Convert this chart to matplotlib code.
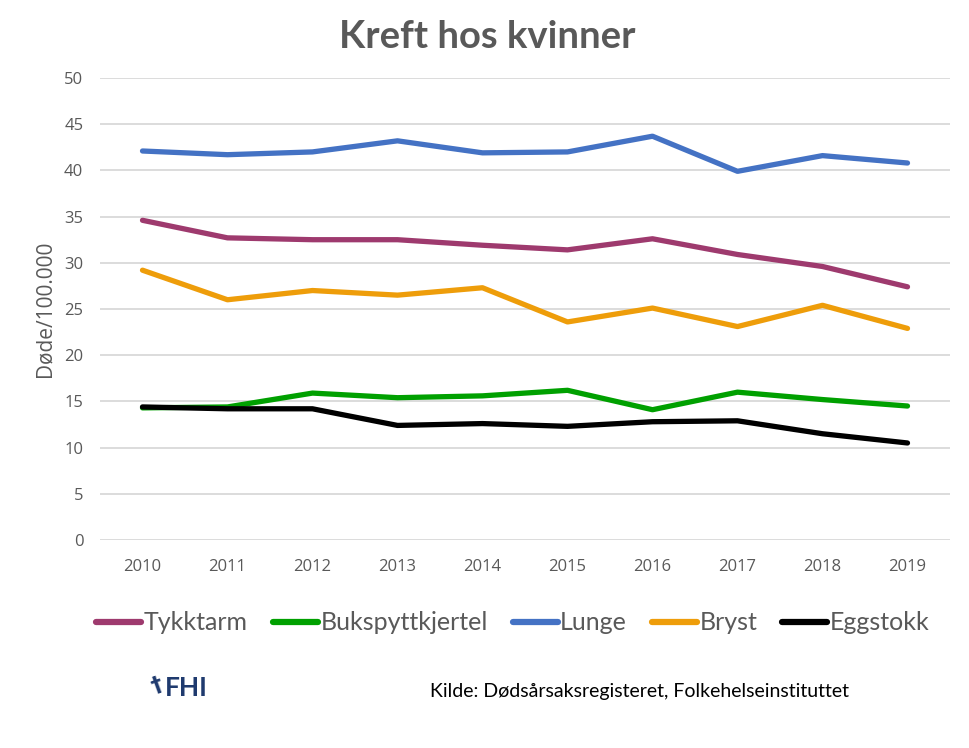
import matplotlib
matplotlib.use("Agg")
import matplotlib.pyplot as plt
from matplotlib.lines import Line2D

years = ["2010", "2011", "2012", "2013", "2014", "2015", "2016", "2017", "2018", "2019"]
tykktarm = [34.6, 32.7, 32.5, 32.5, 31.9, 31.4, 32.6, 30.9, 29.6, 27.4]
bukspytt = [14.3, 14.4, 15.9, 15.4, 15.6, 16.2, 14.1, 16.0, 15.2, 14.5]
lunge = [42.1, 41.7, 42.0, 43.2, 41.9, 42.0, 43.7, 39.9, 41.6, 40.8]
bryst = [29.2, 26.0, 27.0, 26.5, 27.3, 23.6, 25.1, 23.1, 25.4, 22.9]
eggstokk = [14.4, 14.2, 14.2, 12.4, 12.6, 12.3, 12.8, 12.9, 11.5, 10.5]

series_names = ["Tykktarm", "Bukspyttkjertel", "Lunge", "Bryst", "Eggstokk"]
series_vals = [tykktarm, bukspytt, lunge, bryst, eggstokk]
colors = ["#9E3A6E", "#00A000", "#4472C4", "#EE9D0A", "#000000"]
yticks = [0, 5, 10, 15, 20, 25, 30, 35, 40, 45, 50]

gray = "#595959"
W, H = 970, 748
fig = plt.figure(figsize=(W / 100, H / 100), dpi=100)
ax = fig.add_axes([100 / W, 1 - 540 / H, 850 / W, 462 / H])

x = list(range(len(years)))
order = [2, 0, 3, 1, 4]
for i in order:
    ax.plot(x, series_vals[i], color=colors[i], lw=3.8, solid_capstyle="round",
            solid_joinstyle="round", zorder=3 + i)

ax.set_xlim(-0.5, len(years) - 0.5)
ax.set_ylim(0, 50)
ax.set_yticks(yticks)
ax.set_yticklabels([str(v) for v in yticks])
ax.set_xticks(x)
ax.set_xticklabels(years)
ax.grid(axis="y", color="#D9D9D9", lw=1.3, zorder=0)
ax.set_axisbelow(True)
for s in ax.spines.values():
    s.set_visible(False)
ax.tick_params(length=0, colors=gray, labelsize=12)
ax.tick_params(axis="y", pad=12)
ax.tick_params(axis="x", pad=14)
for lab in ax.get_xticklabels() + ax.get_yticklabels():
    lab.set_family("Open Sans")

ax.set_ylabel("Døde/100.000", fontsize=15, color=gray, family="Open Sans", labelpad=6)

fig.text(487 / W, 1 - 37 / H, "Kreft hos kvinner", ha="center", va="center",
         fontsize=27.5, fontweight="bold", color=gray, family=["Lato", "DejaVu Sans"])

handles = [Line2D([0], [0], color=colors[i], lw=4.5, solid_capstyle="round") for i in range(5)]
leg = fig.legend(handles, series_names, loc="center", bbox_to_anchor=(513 / W, 1 - 623 / H),
                 ncol=5, frameon=False, handlelength=1.8, handletextpad=0.1,
                 columnspacing=1.0, prop={"family": "Lato", "size": 18})
for t in leg.get_texts():
    t.set_color(gray)

fig.text(157 / W, 1 - 686 / H, "\u2020", ha="center", va="center", fontsize=16,
         color="#1F3A6E", fontweight="bold", rotation=20)
fig.text(165 / W, 1 - 688 / H, "FHI", ha="left", va="center", fontsize=19,
         color="#1F3A6E", fontweight="bold", family=["Lato", "DejaVu Sans"])
fig.text(430 / W, 1 - 692 / H, "Kilde: Dødsårsaksregisteret, Folkehelseinstituttet",
         ha="left", va="center", fontsize=14, color="#000000", family=["Lato", "DejaVu Sans"])

fig.savefig("out.png", dpi=100, facecolor="white")
